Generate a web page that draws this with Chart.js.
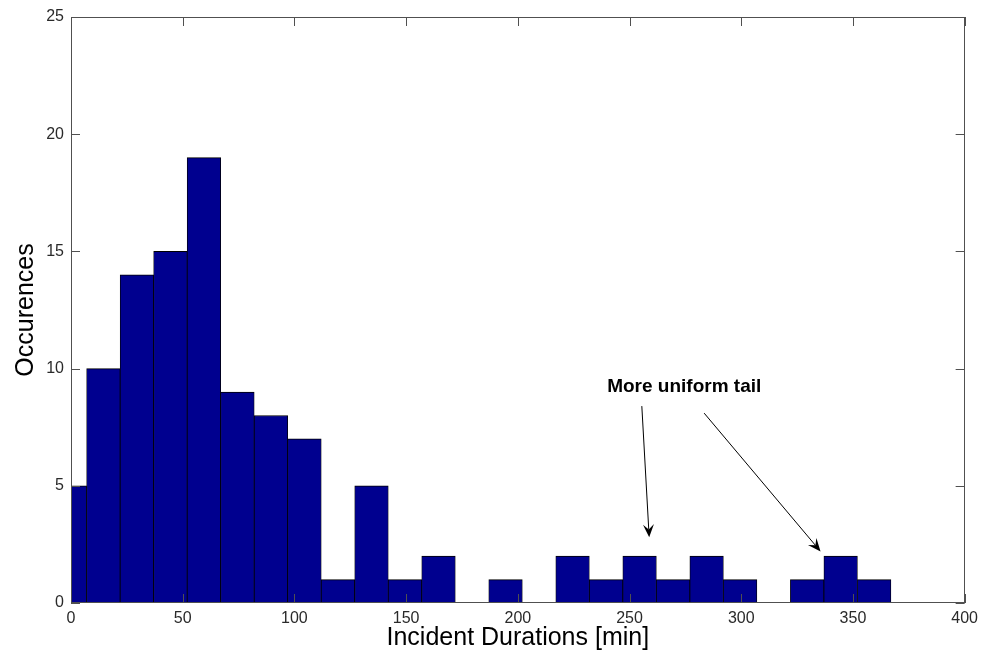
<!DOCTYPE html>
<html>
<head>
<meta charset="utf-8">
<script src="https://cdn.jsdelivr.net/npm/chart.js@4.4.1/dist/chart.umd.min.js"></script>
<style>
  html, body { margin: 0; padding: 0; background: #ffffff; }
  #wrap { width: 984px; height: 660px; }
</style>
</head>
<body>
<div id="wrap"><canvas id="chart" width="984" height="660"></canvas></div>
<script>
// Histogram bins (centre of each 15-minute bin) and their counts
const binCenters = [-0.5, 14.5, 29.5, 44.5, 59.5, 74.5, 89.5, 104.5, 119.5, 134.5,
                    149.5, 164.5, 179.5, 194.5, 209.5, 224.5, 239.5, 254.5, 269.5,
                    284.5, 299.5, 314.5, 329.5, 344.5, 359.5];
const counts = [5, 10, 14, 15, 19, 9, 8, 7, 1, 5,
                1, 2, 0, 1, 0, 2, 1, 2, 1,
                2, 1, 0, 1, 2, 1];

// Annotation text and arrows, in data units (minutes, occurrences)
const noteText = 'More uniform tail';
const notePos = [240, 9];
const arrowTails = [[255.5, 8.4], [283.4, 8.1]];
const arrowHeads = [[258.8, 2.8], [335.5, 2.2]];

const FONT = "'Liberation Sans', Arial, Helvetica, sans-serif";
const AXIS_COLOR = '#505050';

// Box frame with inward tick marks on all four sides, plus the text annotation
const framePlugin = {
  id: 'frame',
  afterDatasetsDraw(chart) {
    const { ctx, chartArea: a, scales: { x, y } } = chart;
    const tickLen = 9;
    ctx.save();
    ctx.strokeStyle = AXIS_COLOR;
    ctx.lineWidth = 1;
    ctx.strokeRect(Math.round(a.left) + 0.5, Math.round(a.top) + 0.5,
                   Math.round(a.right - a.left) - 1, Math.round(a.bottom - a.top) - 1);
    ctx.beginPath();
    x.ticks.forEach(t => {
      const px = Math.round(x.getPixelForValue(t.value)) + 0.5;
      ctx.moveTo(px, a.bottom); ctx.lineTo(px, a.bottom - tickLen);
      ctx.moveTo(px, a.top); ctx.lineTo(px, a.top + tickLen);
    });
    y.ticks.forEach(t => {
      const py = Math.round(y.getPixelForValue(t.value)) + 0.5;
      ctx.moveTo(a.left, py); ctx.lineTo(a.left + tickLen, py);
      ctx.moveTo(a.right, py); ctx.lineTo(a.right - tickLen, py);
    });
    ctx.stroke();
    ctx.restore();
  },
  afterDraw(chart) {
    const { ctx, scales: { x, y } } = chart;
    ctx.save();
    ctx.fillStyle = '#000';
    ctx.font = 'bold 19px ' + FONT;
    ctx.textAlign = 'left';
    ctx.textBaseline = 'alphabetic';
    ctx.fillText(noteText, x.getPixelForValue(notePos[0]), y.getPixelForValue(notePos[1]));

    arrowTails.forEach((tail, i) => {
      const head = arrowHeads[i];
      const x0 = x.getPixelForValue(tail[0]), y0 = y.getPixelForValue(tail[1]);
      const x1 = x.getPixelForValue(head[0]), y1 = y.getPixelForValue(head[1]);
      const ang = Math.atan2(y1 - y0, x1 - x0);
      const len = 13, half = 5.5, notch = 8;
      ctx.strokeStyle = '#000';
      ctx.lineWidth = 1;
      ctx.beginPath();
      ctx.moveTo(x0, y0);
      ctx.lineTo(x1 - Math.cos(ang) * notch, y1 - Math.sin(ang) * notch);
      ctx.stroke();
      const bx = x1 - Math.cos(ang) * len, by = y1 - Math.sin(ang) * len;
      const nx = -Math.sin(ang), ny = Math.cos(ang);
      ctx.beginPath();
      ctx.moveTo(x1, y1);
      ctx.lineTo(bx + nx * half, by + ny * half);
      ctx.lineTo(x1 - Math.cos(ang) * notch, y1 - Math.sin(ang) * notch);
      ctx.lineTo(bx - nx * half, by - ny * half);
      ctx.closePath();
      ctx.fillStyle = '#000';
      ctx.fill();
    });
    ctx.restore();
  }
};

new Chart(document.getElementById('chart'), {
  type: 'bar',
  data: {
    datasets: [{
      data: binCenters.map((c, i) => ({ x: c, y: counts[i] })),
      backgroundColor: '#00008F',
      borderColor: '#000000',
      borderWidth: { top: 1, left: 0.8, right: 0.8, bottom: 0 },
      borderSkipped: false,
      barPercentage: 1,
      categoryPercentage: 1,
      clip: 0
    }]
  },
  options: {
    responsive: false,
    animation: false,
    layout: { padding: { top: 17, right: 18, left: 0, bottom: 0 } },
    plugins: { legend: { display: false }, tooltip: { enabled: false } },
    scales: {
      x: {
        type: 'linear',
        min: 0, max: 400,
        offset: false,
        grid: { display: false, drawTicks: false, offset: false },
        border: { display: false },
        ticks: { stepSize: 50, padding: 6, color: '#2a2a2a', font: { family: FONT, size: 16 }, maxRotation: 0 },
        title: { display: true, text: 'Incident Durations [min]', color: '#000',
                 font: { family: FONT, size: 25 }, padding: { top: 0, bottom: 7 } },
        afterFit(s) { s.height = 57; }
      },
      y: {
        min: 0, max: 25,
        grid: { display: false, drawTicks: false },
        border: { display: false },
        ticks: { stepSize: 5, padding: 7, color: '#2a2a2a', font: { family: FONT, size: 16 } },
        title: { display: true, text: 'Occurences', color: '#000',
                 font: { family: FONT, size: 25 }, padding: { top: 11, bottom: 0 } },
        afterFit(s) { s.width = 71; }
      }
    }
  },
  plugins: [framePlugin]
});
</script>
</body>
</html>
